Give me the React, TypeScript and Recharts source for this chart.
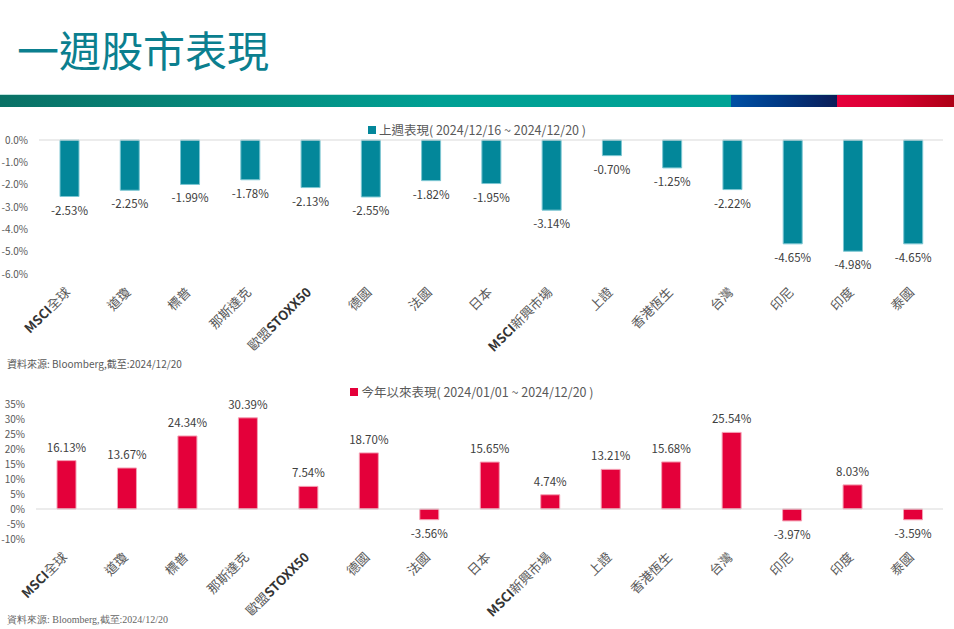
import React from "react";
import { BarChart, Bar, XAxis, YAxis, ReferenceLine, LabelList, Legend } from "recharts";

const categories = ["MSCI全球", "道瓊", "標普", "那斯達克", "歐盟STOXX50", "德國", "法國", "日本", "MSCI新興市場", "上證", "香港恆生", "台灣", "印尼", "印度", "泰國"];
const weekly = [-2.53, -2.25, -1.99, -1.78, -2.13, -2.55, -1.82, -1.95, -3.14, -0.7, -1.25, -2.22, -4.65, -4.98, -4.65];
const ytd = [16.13, 13.67, 24.34, 30.39, 7.54, 18.7, -3.56, 15.65, 4.74, 13.21, 15.68, 25.54, -3.97, 8.03, -3.59];
const weeklyTicks = [-6, -5, -4, -3, -2, -1, 0];
const ytdTicks = [-10, -5, 0, 5, 10, 15, 20, 25, 30, 35];

const FONT = "'Noto Sans CJK TC', 'Noto Sans', sans-serif";
const TEAL = "#03879a";
const RED = "#e4003a";

const weeklyData = categories.map((name, i) => ({ name, value: weekly[i] }));
const ytdData = categories.map((name, i) => ({ name, value: ytd[i] }));

// category label: rotated -45, latin parts bold like the original deck
function CatTick({ x, y, payload }: any) {
  const parts = String(payload.value).split(/([A-Za-z0-9]+)/).filter(Boolean);
  return (
    <g transform={`translate(${x + 2},${y + 11})`}>
      <text transform="rotate(-45)" textAnchor="end" fontSize={13} fill="#4a4a4a">
        {parts.map((p, i) => (
          <tspan key={i} fontWeight={/^[A-Za-z0-9]+$/.test(p) ? 700 : 400} fill={/^[A-Za-z0-9]+$/.test(p) ? "#333" : "#595959"}>
            {p}
          </tspan>
        ))}
      </text>
    </g>
  );
}

function valueLabel(props: any) {
  const { x, y, width, height, value } = props;
  const top = Math.min(y, y + height);
  const bottom = Math.max(y, y + height);
  const ty = value >= 0 ? top - 9 : bottom + 18;
  return (
    <text x={x + width / 2} y={ty} textAnchor="middle" fontSize={11.5} fill="#404040">
      {value.toFixed(2)}%
    </text>
  );
}

function legendContent(label: string, color: string) {
  return () => (
    <div style={{ textAlign: "center", fontSize: 12.5, color: "#595959", fontFamily: FONT, whiteSpace: "nowrap" }}>
      <span style={{ display: "inline-block", width: 8, height: 8, background: color, marginRight: 3, verticalAlign: "middle" }} />
      <span style={{ verticalAlign: "middle" }}>{label}</span>
    </div>
  );
}

export default function App() {
  return (
    <div style={{ position: "absolute", left: 0, top: 0, width: 954, height: 629, background: "#fff", fontFamily: FONT, overflow: "hidden" }}>
      <div style={{ position: "absolute", left: 17, top: 28, fontSize: 42, lineHeight: "42px", color: "#0b7f8f", fontWeight: 400 }}>
        一週股市表現
      </div>
      <div style={{ position: "absolute", left: 0, top: 94, width: 954, height: 1, background: "#bfe3de" }} />
      <div style={{ position: "absolute", left: 0, top: 95, width: 731, height: 12, background: "linear-gradient(90deg, #0a7166 0%, #06897c 30%, #00a094 60%, #00a396 100%)" }} />
      <div style={{ position: "absolute", left: 731, top: 95, width: 106, height: 12, background: "linear-gradient(90deg, #0050a4 0%, #003a86 45%, #0b1d58 100%)" }} />
      <div style={{ position: "absolute", left: 837, top: 95, width: 117, height: 12, background: "linear-gradient(90deg, #e6003c 0%, #d60030 50%, #ad0015 100%)" }} />

      <div style={{ position: "absolute", left: 0, top: 110 }}>
        <BarChart width={954} height={260} data={weeklyData} margin={{ top: 30, right: 11, left: 0, bottom: 0 }} style={{ fontFamily: FONT }}>
          <YAxis
            width={39}
            domain={[-6, 0]}
            ticks={weeklyTicks}
            interval={0}
            axisLine={false}
            tickLine={false}
            tickMargin={5}
            tickFormatter={(v: number) => `${v.toFixed(1)}%`}
            tick={{ fontSize: 10, fill: "#595959" }}
          />
          <XAxis dataKey="name" height={96} interval={0} axisLine={false} tickLine={false} tick={<CatTick />} />
          <ReferenceLine y={0} stroke="#d9d9d9" strokeWidth={1} />
          <Legend verticalAlign="middle" align="center" wrapperStyle={{ top: 8, left: 0, width: 954 }} content={legendContent("上週表現( 2024/12/16 ~ 2024/12/20 )", TEAL)} />
          <Bar dataKey="value" fill={TEAL} stroke="#7cc6d2" strokeWidth={1} barSize={19} isAnimationActive={false}>
            <LabelList dataKey="value" content={valueLabel} />
          </Bar>
        </BarChart>
      </div>
      <div style={{ position: "absolute", left: 7, top: 356, fontSize: 10, color: "#595959", whiteSpace: "nowrap" }}>
        資料來源: Bloomberg,截至:2024/12/20
      </div>

      <div style={{ position: "absolute", left: 0, top: 380 }}>
        <BarChart width={954} height={249} data={ytdData} margin={{ top: 24, right: 11, left: 0, bottom: 0 }} style={{ fontFamily: FONT }}>
          <YAxis
            width={36}
            domain={[-10, 35]}
            ticks={ytdTicks}
            interval={0}
            axisLine={false}
            tickLine={false}
            tickMargin={5}
            tickFormatter={(v: number) => `${v}%`}
            tick={{ fontSize: 10, fill: "#595959" }}
          />
          <XAxis dataKey="name" height={90} interval={0} axisLine={false} tickLine={false} tick={<CatTick />} />
          <ReferenceLine y={0} stroke="#d9d9d9" strokeWidth={1} />
          <Legend verticalAlign="middle" align="center" wrapperStyle={{ top: 0, left: 0, width: 944 }} content={legendContent("今年以來表現( 2024/01/01 ~ 2024/12/20 )", RED)} />
          <Bar dataKey="value" fill={RED} stroke="#f4a0b4" strokeWidth={1} barSize={19} isAnimationActive={false}>
            <LabelList dataKey="value" content={valueLabel} />
          </Bar>
        </BarChart>
      </div>
      <div style={{ position: "absolute", left: 7, top: 613, fontSize: 10, color: "#666", whiteSpace: "nowrap", fontFamily: "'Liberation Serif', serif" }}>
        資料來源: Bloomberg,截至:2024/12/20
      </div>
    </div>
  );
}
